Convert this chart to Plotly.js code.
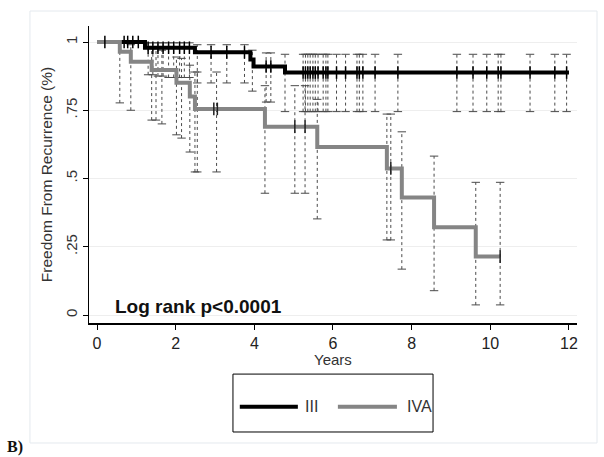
<!DOCTYPE html>
<html><head><meta charset="utf-8">
<script src="https://cdn.plot.ly/plotly-3.0.1.min.js"></script>
<style>html,body{margin:0;padding:0;background:#fff}#chart{width:604px;height:457px}</style>
</head><body><div id="chart"></div>
<script>
// Kaplan-Meier step data
const seriesNames = ["III", "IVA"];
const iiiT = [0, 1.22, 2.49, 3.90, 3.98, 4.78, 12.0];
const iiiS = [1, 0.979, 0.962, 0.936, 0.910, 0.888, 0.888];
const ivaT = [0, 0.58, 0.86, 1.39, 2.02, 2.36, 2.49, 4.27, 5.60, 7.37, 7.75, 8.57, 9.63, 10.25];
const ivaS = [1, 0.964, 0.928, 0.897, 0.851, 0.800, 0.755, 0.690, 0.615, 0.537, 0.430, 0.321, 0.214, 0.214];

// confidence interval bars
const iiiCiT  = [1.30, 1.42, 1.55, 1.68, 1.82, 1.95, 2.10, 2.22, 2.35, 2.55, 2.90, 3.30, 3.75, 3.95, 4.30, 4.42, 4.78, 5.24, 5.30, 5.36, 5.42, 5.49, 5.55, 5.62, 5.75, 5.82, 5.87, 6.09, 6.32, 6.61, 6.67, 6.76, 7.07, 7.65, 9.15, 9.56, 9.91, 10.20, 10.27, 11.01, 11.64, 11.94];
const iiiCiLo = [0.88, 0.88, 0.875, 0.875, 0.87, 0.87, 0.87, 0.87, 0.87, 0.85, 0.85, 0.85, 0.85, 0.82, 0.78, 0.78, 0.745, 0.745, 0.745, 0.745, 0.745, 0.745, 0.745, 0.745, 0.745, 0.745, 0.745, 0.745, 0.745, 0.745, 0.745, 0.745, 0.745, 0.745, 0.745, 0.745, 0.745, 0.745, 0.745, 0.745, 0.745, 0.745];
const iiiCiHi = [0.997, 0.997, 0.997, 0.997, 0.997, 0.997, 0.997, 0.997, 0.997, 0.99, 0.99, 0.99, 0.99, 0.97, 0.96, 0.96, 0.955, 0.955, 0.955, 0.955, 0.955, 0.955, 0.955, 0.955, 0.955, 0.955, 0.955, 0.955, 0.955, 0.955, 0.955, 0.955, 0.955, 0.955, 0.955, 0.955, 0.955, 0.955, 0.955, 0.955, 0.955, 0.955];
const ivaCiT  = [0.58, 0.86, 1.39, 1.50, 1.65, 2.02, 2.15, 2.36, 2.49, 2.55, 3.04, 4.27, 5.03, 5.29, 5.60, 7.37, 7.47, 7.75, 8.57, 9.63, 10.25];
const ivaCiLo = [0.777, 0.75, 0.714, 0.714, 0.70, 0.66, 0.648, 0.597, 0.524, 0.524, 0.524, 0.446, 0.446, 0.446, 0.352, 0.275, 0.275, 0.168, 0.089, 0.037, 0.037];
const ivaCiHi = [0.995, 0.99, 0.975, 0.975, 0.97, 0.945, 0.94, 0.915, 0.89, 0.89, 0.89, 0.84, 0.84, 0.84, 0.79, 0.736, 0.736, 0.671, 0.582, 0.486, 0.486];

// censoring times
const iiiCens = [0.20, 0.69, 0.78, 0.91, 1.05, 1.30, 1.42, 1.55, 1.68, 1.82, 1.95, 2.10, 2.22, 2.35, 2.90, 3.30, 3.75, 4.30, 4.42, 5.24, 5.30, 5.36, 5.42, 5.49, 5.55, 5.62, 5.75, 5.82, 5.87, 6.09, 6.32, 6.61, 6.67, 6.76, 7.07, 7.65, 9.15, 9.56, 9.91, 10.20, 10.27, 11.01, 11.64, 11.94];
const ivaCens = [2.97, 3.06, 5.03, 5.29, 7.47, 10.25];

const xTicks = [0, 2, 4, 6, 8, 10, 12];
const yTicks = [0, 0.25, 0.5, 0.75, 1];
const yTickText = ["0", ".25", ".5", ".75", "1"];

function stepAt(T, S, t) {
  let v = S[0];
  for (let i = 0; i < T.length; i++) { if (T[i] <= t) v = S[i]; }
  return v;
}
function ciLines(T, lo, hi) {
  const x = [], y = [];
  T.forEach((t, i) => { x.push(t, t, null); y.push(lo[i], hi[i], null); });
  return {x, y};
}
function ciCaps(T, lo, hi) {
  const x = [], y = [];
  T.forEach((t, i) => { x.push(t, t); y.push(lo[i], hi[i]); });
  return {x, y};
}

const ciCol = "#4a4a4a";
const blackCol = "#000000";
const grayCol = "#858585";
const traces = [];
[[iiiCiT, iiiCiLo, iiiCiHi], [ivaCiT, ivaCiLo, ivaCiHi]].forEach(([T, lo, hi]) => {
  const l = ciLines(T, lo, hi);
  traces.push({x: l.x, y: l.y, mode: "lines", line: {color: ciCol, width: 1, dash: "dot"}, hoverinfo: "skip", showlegend: false, connectgaps: false});
  const c = ciCaps(T, lo, hi);
  traces.push({x: c.x, y: c.y, mode: "markers", marker: {symbol: "line-ew-open", size: 6, color: ciCol, line: {color: ciCol, width: 1}}, hoverinfo: "skip", showlegend: false});
});
traces.push({x: iiiT, y: iiiS, name: seriesNames[0], mode: "lines", line: {color: blackCol, width: 4, shape: "hv"}, showlegend: false});
traces.push({x: ivaT, y: ivaS, name: seriesNames[1], mode: "lines", line: {color: grayCol, width: 4, shape: "hv"}, showlegend: false});
traces.push({x: iiiCens, y: iiiCens.map(t => stepAt(iiiT, iiiS, t)), mode: "markers", marker: {symbol: "line-ns-open", size: 9, color: "#000", line: {color: "#000", width: 1.5}}, showlegend: false, hoverinfo: "skip"});
traces.push({x: ivaCens, y: ivaCens.map(t => stepAt(ivaT, ivaS, t)), mode: "markers", marker: {symbol: "line-ns-open", size: 9, color: "#222", line: {color: "#222", width: 1.5}}, showlegend: false, hoverinfo: "skip"});

const font = "Arial, 'Liberation Sans', sans-serif";
const layout = {
  width: 604, height: 457,
  margin: {l: 89, r: 27, t: 26, b: 134},
  paper_bgcolor: "#fff", plot_bgcolor: "#fff",
  showlegend: false,
  font: {family: font, color: "#222"},
  xaxis: {
    range: [-0.2034, 12.204], tickvals: xTicks, ticktext: xTicks.map(String),
    ticks: "outside", ticklen: 5, tickcolor: "#000", tickwidth: 1,
    showline: true, linecolor: "#000", linewidth: 1.5, showgrid: false, zeroline: false,
    tickfont: {size: 16, color: "#222"}
  },
  yaxis: {
    range: [-0.0293, 1.0586], tickvals: yTicks, ticktext: yTickText, tickangle: -90,
    ticks: "outside", ticklen: 5, tickcolor: "#000", tickwidth: 1,
    showline: true, linecolor: "#000", linewidth: 1.5, showgrid: true, gridcolor: "#eeeeee", gridwidth: 1, zeroline: false,
    tickfont: {size: 15, color: "#333"},
    title: {text: "Freedom From Recurrence (%)", font: {size: 15.5, color: "#333"}, standoff: 6}
  },
  shapes: [
    {type: "rect", xref: "paper", yref: "paper", x0: -0.121, x1: 1.041, y0: -0.404, y1: 1.0505, line: {color: "#e4e9ee", width: 1}, layer: "below"},
    {type: "rect", xref: "paper", yref: "paper", x0: 0.295, x1: 0.705, y0: -0.367, y1: -0.172, line: {color: "#000", width: 1}},
    {type: "line", xref: "paper", yref: "paper", x0: 0.309, x1: 0.428, y0: -0.282, y1: -0.282, line: {color: blackCol, width: 4}},
    {type: "line", xref: "paper", yref: "paper", x0: 0.510, x1: 0.631, y0: -0.282, y1: -0.282, line: {color: grayCol, width: 4}}
  ],
  annotations: [
    {xref: "paper", yref: "paper", x: 0.5, y: -0.122, xanchor: "center", yanchor: "middle", text: "Years", showarrow: false, font: {size: 15, color: "#333"}},
    {xref: "paper", yref: "paper", x: 0.439, y: -0.282, xanchor: "left", yanchor: "middle", text: seriesNames[0], showarrow: false, font: {size: 16, color: "#333"}},
    {xref: "paper", yref: "paper", x: 0.648, y: -0.282, xanchor: "left", yanchor: "middle", text: seriesNames[1], showarrow: false, font: {size: 16, color: "#333"}},
    {xref: "paper", yref: "paper", x: 0.049, y: 0.057, xanchor: "left", yanchor: "middle", text: "<b>Log rank p&lt;0.0001</b>", showarrow: false, font: {size: 19, color: "#111"}},
    {xref: "paper", yref: "paper", x: -0.172, y: -0.418, xanchor: "left", yanchor: "middle", text: "<b>B)</b>", showarrow: false, font: {family: "'Liberation Serif', 'Times New Roman', serif", size: 16, color: "#111"}}
  ]
};
Plotly.newPlot("chart", traces, layout, {displayModeBar: false, staticPlot: true});
</script>
</body></html>
